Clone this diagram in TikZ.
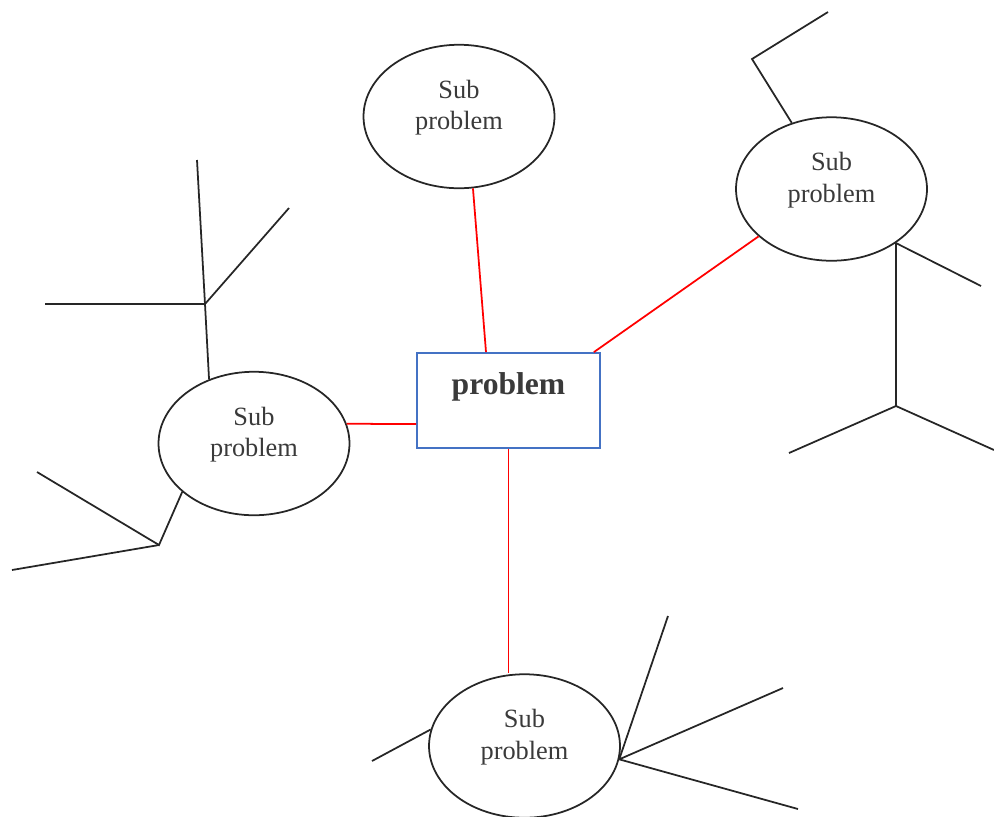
\documentclass[tikz,border=0pt]{standalone}
\usepackage{fontspec}
\setmainfont{Liberation Serif}
\usetikzlibrary{shapes}
\definecolor{probblue}{HTML}{4472C4}
\definecolor{textgray}{HTML}{3A3A3A}
\definecolor{linegray}{HTML}{262626}

\begin{document}
\begin{tikzpicture}[x=0.02cm, y=-0.02cm,
sub/.style ={ellipse, draw=linegray, line width=1pt, inner sep=0pt, minimum width=3.82cm, minimum height=2.87cm,
 label={[text=textgray, align=center, font=\fontsize{15}{18}\selectfont, yshift=0.18cm]center:Sub\\problem}},
main/.style ={rectangle, draw=probblue, line width=1pt, inner sep=0pt, minimum width=3.66cm, minimum height=1.9cm,
 label={[text=textgray, font=\fontsize{18}{21}\selectfont\bfseries, yshift=0.28cm]center:problem}},
link/.style ={red, line width=1pt},
branch/.style ={linegray, line width=1pt}]
\useasboundingbox (0,0) rectangle (994,816);
\node[main] (P) at (508.5,400.5) {};
\node[sub] (S1) at (459,116.5) {};
\node[sub] (S2) at (831.5,189) {};
\node[sub] (S3) at (254,443.5) {};
\node[sub] (S4) at (524.5,746) {};
\draw[link] (S1.-79) -- ([xshift=-0.45cm]P.north);
\draw[link] (S2.213) -- ([xshift=-0.14cm]P.north east);
\draw[link] ([yshift=-0.47cm]P.west) -- (S3.12);
\draw[link] (P.south) -- (P.south |- S4.north);
\coordinate (J1) at (205,304);
\coordinate (A1) at (197,160);
\coordinate (A2) at (289,208);
\coordinate (A3) at (45,304);
\coordinate (J2) at (159,545);
\coordinate (A4) at (37,472);
\coordinate (A5) at (12,570);
\coordinate (J3) at (752,59);
\coordinate (A6) at (828,12);
\coordinate (A7) at (981,286);
\coordinate (J4) at (896,406);
\coordinate (A8) at (789,453);
\coordinate (A9) at (994,450);
\coordinate (A10) at (372,761);
\coordinate (A11) at (668,616);
\coordinate (A12) at (783,688);
\coordinate (A13) at (798,809);
\draw[branch] (S3.125) -- (J1) -- (A1);
\draw[branch] (A3) -- (J1) -- (A2);
\draw[branch] (S3.214) -- (J2) -- (A4);
\draw[branch] (J2) -- (A5);
\draw[branch] (S2.121) -- (J3) -- (A6);
\draw[branch] (S2.-40) -- (A7);
\draw[branch] (S2.-40) -- (J4) -- (A8);
\draw[branch] (J4) -- (A9);
\draw[branch] (S4.170) -- (A10);
\draw[branch] (S4.-8) -- (A11);
\draw[branch] (S4.-8) -- (A12);
\draw[branch] (S4.-8) -- (A13);
\end{tikzpicture}
\end{document}
